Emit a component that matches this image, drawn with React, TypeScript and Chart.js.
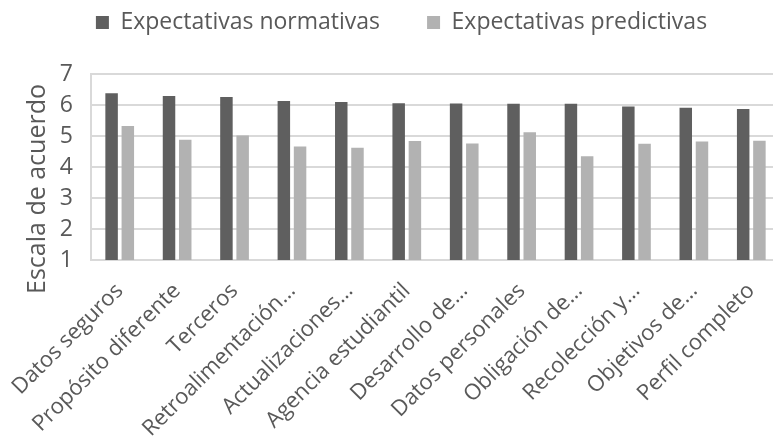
import React, { useEffect, useRef } from "react";
import { Chart, registerables } from "chart.js";

Chart.register(...registerables);

const categories = [
  "Datos seguros",
  "Propósito diferente",
  "Terceros",
  "Retroalimentación…",
  "Actualizaciones…",
  "Agencia estudiantil",
  "Desarrollo de…",
  "Datos personales",
  "Obligación de…",
  "Recolección y…",
  "Objetivos de…",
  "Perfil completo",
];

const normativas = [6.38, 6.29, 6.26, 6.13, 6.1, 6.06, 6.05, 6.04, 6.04, 5.95, 5.91, 5.87];
const predictivas = [5.32, 4.88, 5.02, 4.66, 4.62, 4.84, 4.76, 5.12, 4.35, 4.75, 4.82, 4.85];

const seriesNames = ["Expectativas normativas", "Expectativas predictivas"];
const yTitle = "Escala de acuerdo";

const FONT = "'Open Sans', sans-serif";
const TEXT = "#595959";
const GRID = "#d9d9d9";

const yTitlePlugin = {
  id: "yTitlePlugin",
  afterDraw(chart: any) {
    const ctx = chart.ctx;
    ctx.save();
    ctx.translate(45, 189);
    ctx.rotate(-Math.PI / 2);
    ctx.font = `25px ${FONT}`;
    ctx.fillStyle = TEXT;
    ctx.textAlign = "center";
    ctx.textBaseline = "alphabetic";
    ctx.fillText(yTitle, 0, 0);
    ctx.restore();
  },
};

export default function App() {
  const ref = useRef<HTMLCanvasElement | null>(null);
  useEffect(() => {
    if (!ref.current) return;
    const chart = new Chart(ref.current, {
      type: "bar",
      data: {
        labels: categories,
        datasets: [
          {
            label: seriesNames[0],
            data: normativas,
            backgroundColor: "#5f5f5f",
            categoryPercentage: 0.565,
            barPercentage: 0.77,
          },
          {
            label: seriesNames[1],
            data: predictivas,
            backgroundColor: "#b2b2b2",
            categoryPercentage: 0.565,
            barPercentage: 0.77,
          },
        ],
      },
      options: {
        responsive: false,
        animation: false,
        layout: { padding: { left: 23, right: 20, top: -36, bottom: 0 } },
        plugins: {
          legend: {
            position: "top",
            labels: {
              boxWidth: 13,
              boxHeight: 13,
              padding: 47,
              color: TEXT,
              font: { family: FONT, size: 23 },
            },
          },
          title: {
            display: true,
            text: "",
            weight: 500,
            padding: 0,
            font: { size: 30, lineHeight: 1 },
          },
          tooltip: { enabled: false },
        },
        scales: {
          x: {
            grid: { display: false, drawTicks: false },
            border: { display: true, color: GRID, width: 2 },
            ticks: {
              autoSkip: false,
              maxRotation: 45,
              minRotation: 45,
              color: TEXT,
              font: { family: FONT, size: 22 },
              padding: 18,
            },
            afterFit: (scale: any) => {
              scale.height = 182;
              scale.paddingLeft = 0;
              scale.paddingRight = 0;
            },
          },
          y: {
            min: 1,
            max: 7,
            ticks: {
              stepSize: 1,
              color: TEXT,
              font: { family: FONT, size: 23 },
              padding: 18,
            },
            grid: { color: GRID, lineWidth: 2, drawTicks: false },
            border: { display: true, color: GRID, width: 2 },
            afterFit: (scale: any) => {
              scale.width = 68;
            },
          },
        },
      },
      plugins: [yTitlePlugin],
    });
    return () => chart.destroy();
  }, []);

  return (
    <div style={{ position: "fixed", left: 0, top: 0, width: 773, height: 442, overflow: "hidden", background: "#fff" }}>
      <canvas ref={ref} width={800} height={442} style={{ display: "block" }} />
    </div>
  );
}
